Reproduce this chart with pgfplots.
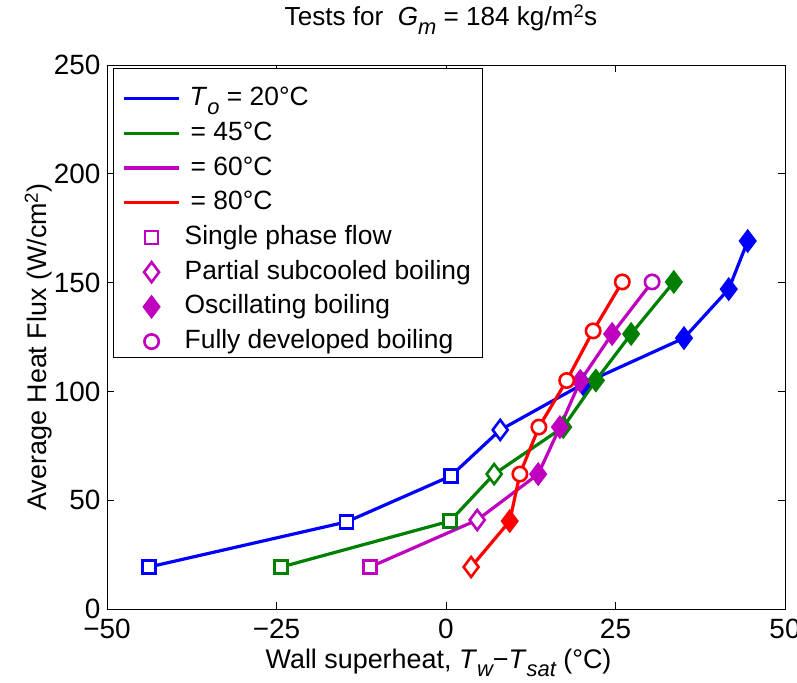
\documentclass[border=0pt]{standalone}
\usepackage{pgfplots}
\pgfplotsset{compat=1.18}
\usepackage{fontspec}
\setmainfont{Liberation Sans}
\definecolor{mblue}{rgb}{0,0,1}
\definecolor{mgreen}{rgb}{0,0.5,0}
\definecolor{mmag}{rgb}{0.75,0,0.75}
\definecolor{mred}{rgb}{1,0,0}
\newcommand{\sbs}[1]{\raisebox{-0.32em}{\fontsize{22}{22}\selectfont\itshape #1}}
\pgfplotsset{
  ln/.style={no markers, line width=3.2bp, forget plot},
  sq/.style={only marks, mark=square*, mark size=6.5bp, mark options={solid, fill=white, line width=2.6bp}, forget plot},
  od/.style={only marks, mark=diamond*, mark size=10bp, mark options={solid, fill=white, line width=2.6bp}, forget plot},
  fd/.style={only marks, mark=diamond*, mark size=10bp, mark options={solid, line width=2.6bp}, forget plot},
  ci/.style={only marks, mark=*, mark size=7.2bp, mark options={solid, fill=white, line width=2.6bp}, forget plot},
}
\begin{document}
\begin{tikzpicture}
\begin{axis}[
  at={(0,0)}, anchor=south west,
  scale only axis, width=678bp, height=544bp,
  xmin=-50, xmax=50, ymin=0, ymax=250,
  xtick={-50,-25,0,25,50},
  xticklabels={\textminus50,\textminus25,0,25,50},
  ytick={0,50,100,150,200,250},
  tick align=inside, major tick length=7bp,
  tick style={black, line width=0.6bp},
  axis line style={line width=0.8bp},
  ticklabel style={font=\fontsize{28}{32}\selectfont},
  xticklabel style={yshift=-7bp},
  yticklabel style={xshift=-3bp},
  /pgf/number format/assume math mode=true,
  xlabel={Wall superheat, \textit{T}\sbs{w}\textminus\textit{T}\sbs{sat} (°C)},
  ylabel={Average Heat Flux (W/cm\textsuperscript{2})},
  title={Tests for \ \textit{G}\sbs{m} = 184 kg/m\textsuperscript{2}s},
  label style={font=\fontsize{27}{30}\selectfont},
  xlabel style={at={(axis description cs:0.489,-0.1085)}, anchor=base},
  ylabel style={at={(axis description cs:-0.0885,0.482)}, anchor=base},
  title style={font=\fontsize{26.2}{30}\selectfont, at={(axis description cs:0.4926,1.0607)}, anchor=base},
  legend style={at={(axis description cs:0.009,0.994)}, anchor=north west,
    draw=black, line width=0.8bp, fill=white,
    font=\fontsize{26.5}{30}\selectfont,
    nodes={inner sep=2bp, text height=20bp, text depth=6bp},
    row sep=4.7bp, column sep=2bp, inner xsep=9bp, inner ysep=1bp},
  legend cell align=left,
]
\addlegendimage{legend image code/.code={\path[draw=none, fill=none] (0bp,-1bp) rectangle (1bp,29bp); \draw[mblue, line width=3.2bp] (0bp,0bp) -- (55bp,0bp);}}
\addlegendentry{\hspace{5bp}\textit{T}\sbs{o} = 20°C}
\addlegendimage{legend image code/.code={\draw[mgreen, line width=3.2bp] (0bp,0bp) -- (55bp,0bp);}}
\addlegendentry{\hspace{6bp}= 45°C}
\addlegendimage{legend image code/.code={\draw[mmag, line width=3.2bp] (0bp,0bp) -- (55bp,0bp);}}
\addlegendentry{\hspace{6bp}= 60°C}
\addlegendimage{legend image code/.code={\draw[mred, line width=3.2bp] (0bp,0bp) -- (55bp,0bp);}}
\addlegendentry{\hspace{6bp}= 80°C}
\addlegendimage{legend image code/.code={\draw[mmag, line width=2.6bp, fill=white, only marks, mark size=6.5bp] plot[mark=square*] coordinates {(27.5bp,0bp)};}}
\addlegendentry{Single phase flow}
\addlegendimage{legend image code/.code={\draw[mmag, line width=2.6bp, fill=white, only marks, mark size=10bp] plot[mark=diamond*] coordinates {(27.5bp,0bp)};}}
\addlegendentry{Partial subcooled boiling}
\addlegendimage{legend image code/.code={\draw[mmag, line width=2.6bp, fill=mmag, only marks, mark size=10bp] plot[mark=diamond*] coordinates {(27.5bp,0bp)};}}
\addlegendentry{Oscillating boiling}
\addlegendimage{legend image code/.code={\draw[mmag, line width=2.6bp, fill=white, only marks, mark size=7.2bp] plot[mark=*] coordinates {(27.5bp,0bp)};}}
\addlegendentry{Fully developed boiling}

% T_o = 20 C (blue)
\addplot[mblue, ln] coordinates {(-43.8,19.3) (-14.7,40.0) (0.7,61.1) (8.0,82.3) (20.2,103.4) (35.1,124.5) (41.7,147.0) (44.5,169.1)};
\addplot[mblue, sq] coordinates {(-43.8,19.3) (-14.7,40.0) (0.7,61.1)};
\addplot[mblue, od] coordinates {(8.0,82.3)};
\addplot[mblue, fd] coordinates {(20.2,103.4) (35.1,124.5) (41.7,147.0) (44.5,169.1)};
% T_o = 45 C (green)
\addplot[mgreen, ln] coordinates {(-24.3,19.3) (0.6,40.4) (7.1,62.0) (17.3,83.6) (22.1,105.0) (27.3,126.4) (33.6,150.3)};
\addplot[mgreen, sq] coordinates {(-24.3,19.3) (0.6,40.4)};
\addplot[mgreen, od] coordinates {(7.1,62.0)};
\addplot[mgreen, fd] coordinates {(17.3,83.6) (22.1,105.0) (27.3,126.4) (33.6,150.3)};
% T_o = 60 C (magenta)
\addplot[mmag, ln] coordinates {(-11.2,19.3) (4.6,40.9) (13.6,62.0) (16.8,83.6) (19.8,104.8) (24.5,126.4) (30.4,150.3)};
\addplot[mmag, sq] coordinates {(-11.2,19.3)};
\addplot[mmag, od] coordinates {(4.6,40.9)};
\addplot[mmag, fd] coordinates {(13.6,62.0) (16.8,83.6) (19.8,104.8) (24.5,126.4)};
\addplot[mmag, ci] coordinates {(30.4,150.3)};
% T_o = 80 C (red)
\addplot[mred, ln] coordinates {(3.7,19.3) (9.4,40.4) (10.9,62.0) (13.7,83.6) (17.8,105.0) (21.7,127.8) (26.0,150.3)};
\addplot[mred, od] coordinates {(3.7,19.3)};
\addplot[mred, fd] coordinates {(9.4,40.4)};
\addplot[mred, ci] coordinates {(10.9,62.0) (13.7,83.6) (17.8,105.0) (21.7,127.8) (26.0,150.3)};
\end{axis}
\pgfresetboundingbox
\useasboundingbox (-107bp,-74bp) rectangle (690bp,609bp);
\end{tikzpicture}
\end{document}
